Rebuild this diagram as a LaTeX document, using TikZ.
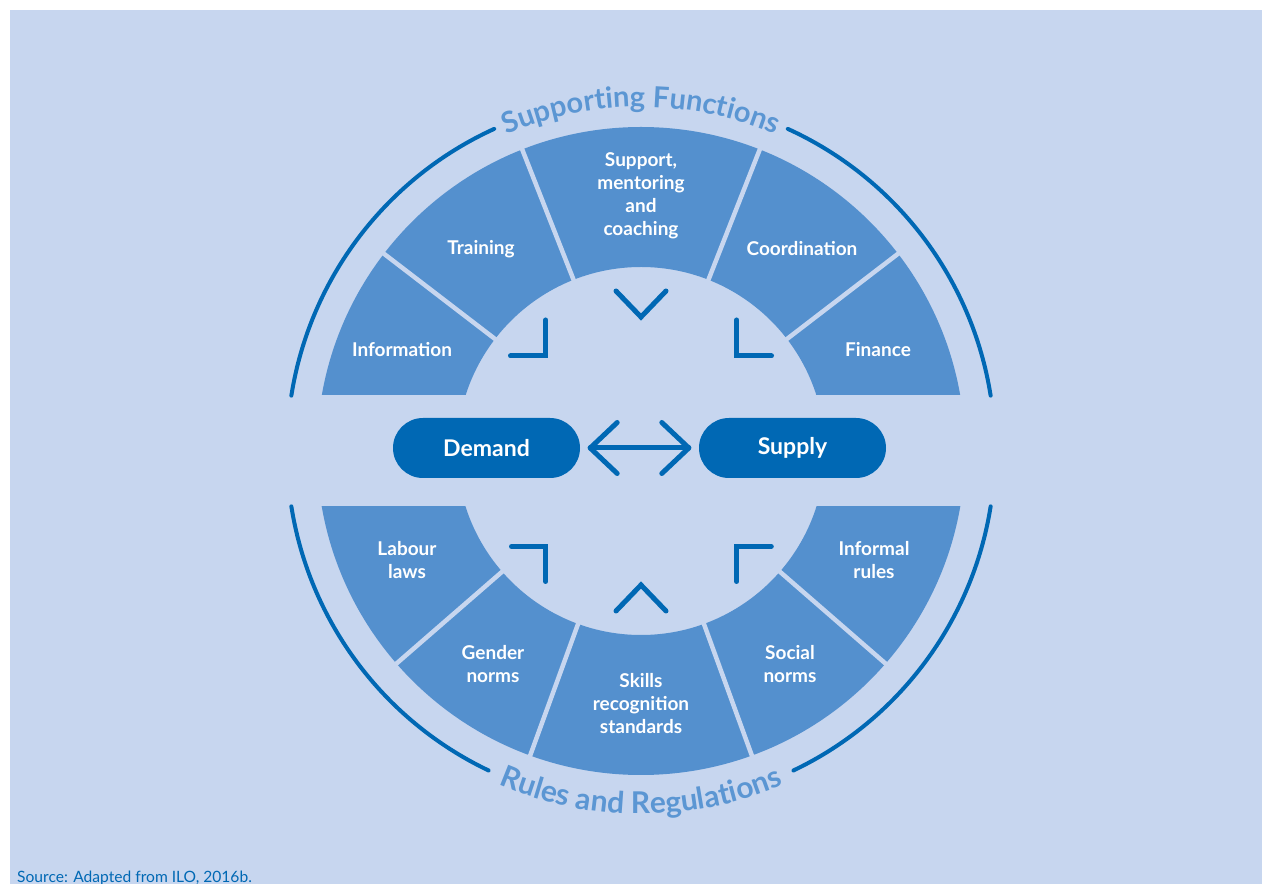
\documentclass[tikz,border=0pt]{standalone}
\usepackage{fontspec}
\setmainfont{Lato}
\usetikzlibrary{decorations.text}
\definecolor{bgc}{HTML}{C7D6EF}
\definecolor{segc}{HTML}{5490CE}
\definecolor{dkc}{HTML}{0068B4}
\definecolor{titc}{HTML}{5B96D3}
\newcommand\titlestyle{\fontsize{29}{29}\selectfont\bfseries\color{titc}}
\newcommand\titlestyleb{\fontsize{30}{30}\selectfont\bfseries\color{titc}}
\tikzset{
  seglabel/.style={text=white, font=\fontsize{19}{23}\selectfont\bfseries, align=center},
  pill/.style={fill=dkc, text=white, rounded corners=30pt, minimum width=187pt, minimum height=60pt, inner sep=0pt, font=\fontsize{23}{26}\selectfont\bfseries},
  gapline/.style={draw=bgc, line width=4.5pt},
  ring/.style={draw=dkc, line width=4pt, line cap=round},
  bracket/.style={draw=dkc, line width=5pt, line cap=round},
}
\begin{document}
\begin{tikzpicture}[x=1pt,y=1pt]
\useasboundingbox (0,0) rectangle (1262,884);
\fill[bgc] (10,0) rectangle (1262,874);
\coordinate (c) at (641,433);
% segments
\begin{scope}
  \clip (0,489) rectangle (1262,884);
  \fill[segc, even odd rule] (c) circle[radius=324] (c) circle[radius=184];
\end{scope}
\begin{scope}
  \clip (0,0) rectangle (1262,377);
  \fill[segc, even odd rule] (c) circle[radius=324] (c) circle[radius=184];
\end{scope}
\foreach \a in {37.5,68.5,111.5,142.5,221,250,290,319}
  \draw[gapline] (c) ++(\a:176) -- ++(\a:156);
% outer arcs
\draw[ring] (c) ++(171:354) arc[start angle=171, end angle=114.5, radius=354];
\draw[ring] (c) ++(65.5:354) arc[start angle=65.5, end angle=9, radius=354];
\draw[ring] (c) ++(189:354) arc[start angle=189, end angle=244.5, radius=354];
\draw[ring] (c) ++(295.5:354) arc[start angle=295.5, end angle=351, radius=354];
% curved titles
\path[decorate, decoration={text along path, text align=center, text={|\titlestyle|Supporting Functions}}]
  (c) ++(125:344) arc[start angle=125, end angle=55, radius=344];
\path[decorate, decoration={text along path, text align=center, text={|\titlestyleb|Rules and Regulations}}]
  (c) ++(232:363) arc[start angle=232, end angle=308, radius=363];
% segment labels
\node[seglabel] (sup) at (641,688) {Support,\\mentoring\\and\\coaching};
\node[seglabel] (tra) at (481,635) {Training};
\node[seglabel] (coo) at (802,635) {Coordination};
\node[seglabel] (inf) at (402,534) {Information};
\node[seglabel] (fin) at (878,534) {Finance};
\node[seglabel] (lab) at (407,324) {Labour\\laws};
\node[seglabel] (ifr) at (874,324) {Informal\\rules};
\node[seglabel] (gen) at (493,220) {Gender\\norms};
\node[seglabel] (soc) at (790,220) {Social\\norms};
\node[seglabel] (ski) at (641,180) {Skills\\recognition\\standards};
% pills
\node[pill] (dem) at (486.5,436) {Demand};
\node[pill] (sply) at (792.5,436) {Supply};
\draw[bracket] ([xshift=10pt]dem.east) -- ([xshift=-10pt]sply.west);
\draw[bracket, line join=round] ([xshift=37pt,yshift=25.5pt]dem.east) -- ([xshift=10pt]dem.east) -- ([xshift=37pt,yshift=-25.5pt]dem.east);
\draw[bracket, line join=round] ([xshift=-37pt,yshift=25.5pt]sply.west) -- ([xshift=-10pt]sply.west) -- ([xshift=-37pt,yshift=-25.5pt]sply.west);
% brackets
\draw[bracket] (510.5,528) -- (545.7,528) -- (545.7,564);
\draw[bracket] (736.7,564) -- (736.7,528) -- (771.5,528);
\draw[bracket] (616,593) -- (641,567) -- (666,593);
\draw[bracket] (511.5,337.5) -- (545.7,337.5) -- (545.7,302.5);
\draw[bracket] (736.7,302.5) -- (736.7,337.5) -- (771.3,337.5);
\draw[bracket] (616,273) -- (641,299) -- (666,273);
% source
\node[anchor=base west, inner sep=0pt, text=dkc, font=\fontsize{15.6}{18}\selectfont] (src) at (17,1) {Source: Adapted from ILO, 2016b.};
\end{tikzpicture}
\end{document}
